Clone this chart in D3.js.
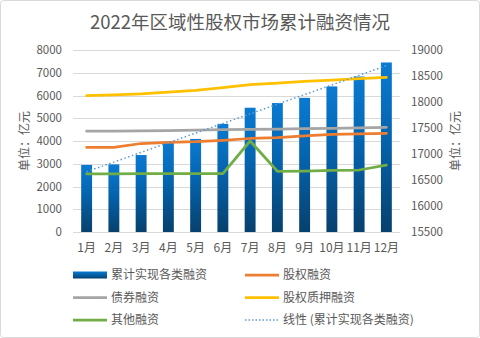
<!DOCTYPE html>
<html>
<head>
<meta charset="utf-8">
<script src="https://cdn.jsdelivr.net/npm/d3@7"></script>
<style>
  body { margin: 0; background: #fff; }
  svg text { font-family: "Noto Sans CJK SC", "Noto Sans", sans-serif; fill: #595959; }
</style>
</head>
<body>
<svg width="480" height="338"></svg>
<script>
// months
var months = ["1月", "2月", "3月", "4月", "5月", "6月", "7月", "8月", "9月", "10月", "11月", "12月"]

// cumulative total (right axis), 亿元
var total = [16790, 16800, 16980, 17220, 17290, 17580, 17890, 17980, 18080, 18300, 18490, 18760]
// breakdown lines (left axis), 亿元
var equity = [3720, 3720, 3890, 3940, 3970, 4030, 4110, 4150, 4220, 4290, 4310, 4340]
var bond = [4430, 4430, 4440, 4460, 4480, 4500, 4510, 4520, 4540, 4560, 4580, 4600]
var pledge = [5990, 6030, 6070, 6150, 6230, 6350, 6480, 6540, 6620, 6680, 6740, 6800]
var other = [2550, 2560, 2570, 2570, 2570, 2570, 4000, 2670, 2680, 2710, 2725, 2940]
// linear trend of the total, first and last month
var trendMonths = ["1月", "12月"]
var trend = [16660, 18700]

var leftTicks = [0, 1000, 2000, 3000, 4000, 5000, 6000, 7000, 8000]
var rightTicks = [15500, 16000, 16500, 17000, 17500, 18000, 18500, 19000]

var svg = d3.select("svg")

// chart frame
svg.append("rect")
  .attr("x", 0.5).attr("y", 0.5)
  .attr("width", 479).attr("height", 337)
  .attr("rx", 3)
  .attr("fill", "#fff")
  .attr("stroke", "#d9d9d9")

svg.append("text")
  .attr("x", 240).attr("y", 29)
  .attr("text-anchor", "middle")
  .style("font-size", "18.5px")
  .text("2022年区域性股权市场累计融资情况")

var x = d3.scaleBand().domain(months).range([73, 400]).paddingInner(0.6).paddingOuter(0.3)
var yL = d3.scaleLinear().domain([0, 8000]).range([232, 50])
var yR = d3.scaleLinear().domain([15500, 19000]).range([232, 50])
var cx = function(m) { return x(m) + x.bandwidth() / 2 }

// bar gradient
var grad = svg.append("defs").append("linearGradient")
  .attr("id", "barGrad")
  .attr("x1", 0).attr("y1", 0).attr("x2", 0).attr("y2", 1)
grad.append("stop").attr("offset", "0%").attr("stop-color", "#0a7ad2")
grad.append("stop").attr("offset", "45%").attr("stop-color", "#0563ad")
grad.append("stop").attr("offset", "100%").attr("stop-color", "#07406d")

// gridlines
svg.append("g")
  .selectAll("line")
  .data(leftTicks)
  .join("line")
  .attr("x1", 73).attr("x2", 400)
  .attr("y1", d => Math.round(yL(d)) + 0.5)
  .attr("y2", d => Math.round(yL(d)) + 0.5)
  .attr("stroke", "#d9d9d9")

// axes
var axL = svg.append("g")
  .attr("transform", "translate(62,0)")
  .call(d3.axisLeft(yL).tickValues(leftTicks).tickSize(0).tickPadding(0).tickFormat(d3.format("d")))
var axR = svg.append("g")
  .attr("transform", "translate(411,0)")
  .call(d3.axisRight(yR).tickValues(rightTicks).tickSize(0).tickPadding(0).tickFormat(d3.format("d")))
var axX = svg.append("g")
  .attr("transform", "translate(0,241)")
  .call(d3.axisBottom(x).tickSize(0).tickPadding(0))
;[axL, axR, axX].forEach(function(a) {
  a.select(".domain").remove()
  a.selectAll("text")
    .style("font-family", "'Noto Sans CJK SC', sans-serif")
    .style("font-size", "11.5px")
    .attr("fill", "#595959")
})
axX.selectAll("text").style("font-size", "12px").attr("dy", "0.9em")

// axis titles
svg.append("text")
  .attr("transform", "translate(29,141) rotate(-90)")
  .attr("text-anchor", "middle")
  .style("font-size", "12px")
  .text("单位：亿元")
svg.append("text")
  .attr("transform", "translate(460,141) rotate(-90)")
  .attr("text-anchor", "middle")
  .style("font-size", "12px")
  .text("单位：亿元")

// bars
svg.append("g")
  .selectAll("rect")
  .data(total)
  .join("rect")
  .attr("x", (d, i) => x(months[i]))
  .attr("y", d => yR(d))
  .attr("width", x.bandwidth())
  .attr("height", d => yR(15500) - yR(d))
  .attr("fill", "url(#barGrad)")

// lines
var series = [
  { name: "股权融资", values: equity, color: "#ed7d31" },
  { name: "债券融资", values: bond, color: "#a5a5a5" },
  { name: "股权质押融资", values: pledge, color: "#ffc000" },
  { name: "其他融资", values: other, color: "#70ad47" }
]
var line = d3.line()
  .x((d, i) => cx(months[i]))
  .y(d => yL(d))

series.forEach(function(s) {
  svg.append("path")
    .attr("d", line(s.values))
    .attr("fill", "none")
    .attr("stroke", s.color)
    .attr("stroke-width", 2.75)
    .attr("stroke-linejoin", "round")
    .attr("stroke-linecap", "round")
})

// trend line
svg.append("path")
  .attr("d", d3.line().x((d, i) => cx(trendMonths[i])).y(d => yR(d))(trend))
  .attr("fill", "none")
  .attr("stroke", "#5b9bd5")
  .attr("stroke-width", 1.5)
  .attr("stroke-dasharray", "1.5,2.5")

// legend
var legend = [
  { name: "累计实现各类融资", type: "bar" },
  { name: "股权融资", color: "#ed7d31" },
  { name: "债券融资", color: "#a5a5a5" },
  { name: "股权质押融资", color: "#ffc000" },
  { name: "其他融资", color: "#70ad47" },
  { name: "线性 (累计实现各类融资)", color: "#5b9bd5", dash: true }
]
var lg = svg.append("g")
  .selectAll("g")
  .data(legend)
  .join("g")
  .attr("transform", (d, i) => "translate(" + (i % 2 ? 245 : 73) + "," + (275 + Math.floor(i / 2) * 22.5) + ")")

lg.each(function(d) {
  var g = d3.select(this)
  if (d.type == "bar") {
    g.append("rect")
      .attr("x", 0).attr("y", -3.5)
      .attr("width", 34).attr("height", 7)
      .attr("fill", "url(#barGrad)")
  } else {
    g.append("line")
      .attr("x1", 0).attr("x2", 34)
      .attr("stroke", d.color)
      .attr("stroke-width", d.dash ? 1.5 : 2.75)
      .attr("stroke-dasharray", d.dash ? "1.5,2" : null)
  }
  g.append("text")
    .attr("x", 38).attr("y", 0)
    .attr("dy", "0.35em")
    .style("font-size", "12px")
    .text(d.name)
})
</script>
</body>
</html>
